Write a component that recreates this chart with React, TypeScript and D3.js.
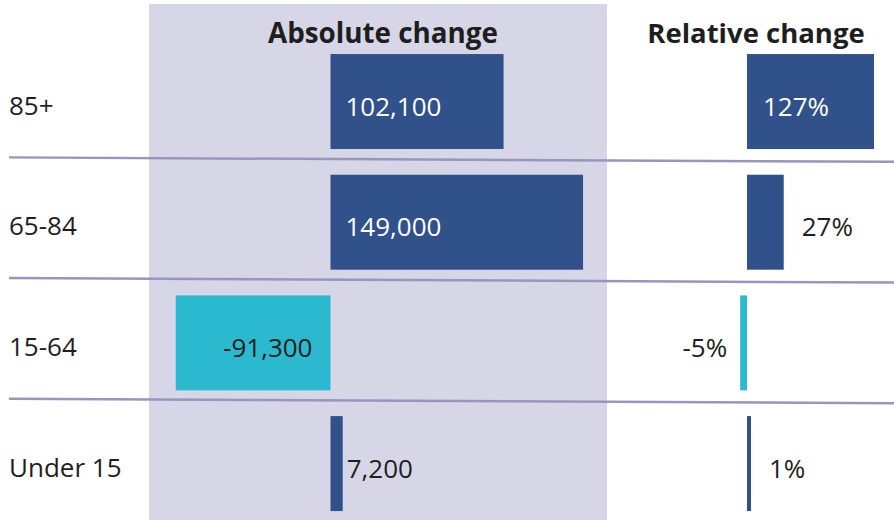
import React from "react";
import * as d3 from "d3";

const categories = ["85+", "65-84", "15-64", "Under 15"];
const absoluteValues = [102100, 149000, -91300, 7200];
const absoluteLabels = ["102,100", "149,000", "-91,300", "7,200"];
const relativeValues = [127, 27, -5, 1];
const relativeLabels = ["127%", "27%", "-5%", "1%"];
const titles = ["Absolute change", "Relative change"];

const W = 894;
const H = 520;
const DARK = "#30518a";
const CYAN = "#2bb9d0";
const SHADE = "#d7d6e6";
const LINE = "#9696be";
const FONT = "'Open Sans', 'Noto Sans', sans-serif";

export default function App() {
  const y = d3
    .scaleBand<string>()
    .domain(categories)
    .range([41.2, 523.9])
    .paddingInner(0.213)
    .paddingOuter(0.1065);

  const xAbs = d3.scaleLinear().domain([0, 100000]).range([330.5, 500]);
  const xRel = d3.scaleLinear().domain([0, 100]).range([747, 883]);
  const relMaxW = 127;
  const relMinW = 4;

  const bw = y.bandwidth();
  const gap = y.step() - bw;

  return (
    <svg
      width={W}
      height={H}
      style={{ position: "absolute", left: 0, top: 0, fontFamily: FONT }}
    >
      <rect x={149} y={4} width={458} height={H - 4} fill={SHADE} />
      <text x={383} y={32} textAnchor="middle" dominantBaseline="central" fontSize={27.8} fontWeight={700} fill="#1e1e1e">
        {titles[0]}
      </text>
      <text x={756} y={32} textAnchor="middle" dominantBaseline="central" fontSize={27.5} fontWeight={700} fill="#1e1e1e">
        {titles[1]}
      </text>

      {categories.map((c, i) => {
        const y0 = y(c)!;
        const cy = y0 + bw / 2;
        const a = absoluteValues[i];
        const ax0 = Math.min(xAbs(0), xAbs(a));
        const aw = Math.abs(xAbs(a) - xAbs(0));
        const r = relativeValues[i];
        const rwRaw = Math.abs(xRel(r) - xRel(0));
        const rw = Math.max(relMinW, Math.min(relMaxW, rwRaw));
        const rx0 = r >= 0 ? xRel(0) : xRel(0) - rw;
        const aInside = aw > 100;
        const rInside = rw > 100;
        let aLabelX: number;
        let aAnchor: "start" | "end";
        if (a >= 0) {
          aAnchor = "start";
          aLabelX = aInside ? xAbs(0) + 15 : xAbs(a) + 4;
        } else {
          aAnchor = "end";
          aLabelX = xAbs(0) - 18;
        }
        let rLabelX: number;
        let rAnchor: "start" | "end";
        if (r >= 0) {
          rAnchor = "start";
          rLabelX = rInside ? xRel(0) + 16 : rx0 + rw + 18;
        } else {
          rAnchor = "end";
          rLabelX = rx0 - 13;
        }
        const color = a >= 0 ? DARK : CYAN;
        const rcolor = r >= 0 ? DARK : CYAN;
        return (
          <g key={c}>
            <text x={9} y={cy + 3} dominantBaseline="central" fontSize={26} fill="#1e1e1e">
              {c}
            </text>
            <rect x={ax0} y={y0} width={aw} height={bw} fill={color} />
            <text
              x={aLabelX}
              y={cy + 4}
              textAnchor={aAnchor}
              dominantBaseline="central"
              fontSize={26}
              fill={a >= 0 && aInside ? "#ffffff" : "#1e1e1e"}
            >
              {absoluteLabels[i]}
            </text>
            <rect x={rx0} y={y0} width={rw} height={bw} fill={rcolor} />
            <text
              x={rLabelX}
              y={cy + 4}
              textAnchor={rAnchor}
              dominantBaseline="central"
              fontSize={26}
              fill={rInside ? "#ffffff" : "#1e1e1e"}
            >
              {relativeLabels[i]}
            </text>
            {i < categories.length - 1 && (
              <line
                x1={9}
                x2={W}
                y1={y0 + bw + gap / 2 - 4.5}
                y2={y0 + bw + gap / 2}
                stroke={LINE}
                strokeWidth={2.5}
              />
            )}
          </g>
        );
      })}
    </svg>
  );
}
